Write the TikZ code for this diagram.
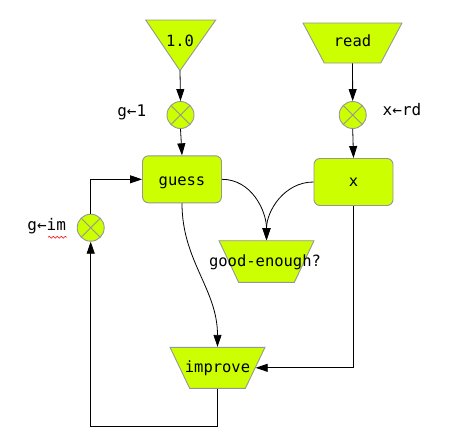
\documentclass[tikz,border=0pt]{standalone}
\usepackage{fontspec}
\newfontfamily\monofont{DejaVu Sans Mono}
\usetikzlibrary{shapes.geometric,arrows.meta,decorations.pathmorphing}
\definecolor{lime}{RGB}{204,255,0}
\definecolor{edgegray}{RGB}{150,150,150}
\begin{document}
\begin{tikzpicture}[x=1pt,y=-1pt,
  txt/.style={font=\monofont\fontsize{15.5}{18}\selectfont, inner sep=0pt, anchor=base},
  lbl/.style={font=\monofont\fontsize{16}{19}\selectfont, inner sep=0pt, anchor=base},
  box/.style={draw=edgegray, fill=lime, line width=0.9pt, rounded corners=6pt, minimum width=79pt, minimum height=47pt, inner sep=0pt},
  trap/.style={draw=edgegray, fill=lime, line width=0.9pt, trapezium, trapezium stretches=true, shape border rotate=180, inner sep=1pt},
  junction/.style={draw=edgegray, fill=lime, line width=0.9pt, circle, minimum size=27pt, inner sep=0pt,
    path picture={\draw[edgegray, line width=0.9pt] (path picture bounding box.north west) -- (path picture bounding box.south east)
      (path picture bounding box.north east) -- (path picture bounding box.south west);}},
  arr/.style={draw=black, line width=0.8pt, -{Triangle[length=12pt,width=8pt]}}
]
\useasboundingbox (0,0) rectangle (462,447);

% triangle 1.0
\draw[draw=edgegray, fill=lime, line width=0.9pt] (145.7,20) -- (215.7,20) -- (180,70.7) -- cycle;
\coordinate (onetip) at (180,70.7);
\node[txt] (one) at (180,46.7) {1.0};

% read
\node[trap, trapezium left angle=64.6, trapezium right angle=64.6, minimum width=99pt, minimum height=40pt] (read) at (352.5,43) {\phantom{M}};
\node[txt] (readtxt) at (352.5,46.7) {read};

% junctions
\node[junction] (cg) at (180.5,115) {};
\node[lbl] (cglbl) at (131.7,116.5) {g←1};
\node[junction] (cx) at (352.7,115) {};
\node[lbl] (cxlbl) at (402,115.5) {x←rd};
\node[junction] (cim) at (90.7,227.7) {};
\node[lbl] (cimlbl) at (46.7,230) {g←im};
\draw[red, line width=0.6pt, decorate, decoration={snake, amplitude=1pt, segment length=4pt}] (48,237.3) -- (66.7,237.3);

% boxes
\node[box] (guess) at (182,179.3) {};
\node[txt] (guesstxt) at (182,185.7) {guess};
\node[box] (xbox) at (353.5,182) {};
\node[txt] (xtxt) at (353.5,186) {x};

% good-enough?
\node[trap, trapezium left angle=66, trapezium right angle=66, minimum width=95pt, minimum height=41.6pt] (ge) at (266.5,261.5) {\phantom{M}};
\node[txt] (getxt) at (265,266.5) {good-enough?};

% improve
\node[trap, trapezium left angle=66, trapezium right angle=66, minimum width=95pt, minimum height=41pt] (improve) at (217.5,367.8) {\phantom{M}};
\node[txt] (imptxt) at (217.5,372) {improve};

\coordinate (bl) at (90.7,426.7);

% connectors
\draw[arr] (onetip) -- (cg.north);
\draw[arr] (cg.south) -- (guess.north);
\draw[arr] (read.south) -- (cx.north);
\draw[arr] (cx.south) -- (xbox.north);
\draw[arr] (guess.east) to[out=0,in=90] (ge.north);
\draw[arr] (xbox.west) to[out=180,in=90] (ge.north);
\draw[arr] (guess.south) to[out=-90,in=90] (improve.north);
\draw[arr] (xbox.south) |- (improve.east);
\draw[arr] (improve.south) |- (bl) -- (cim.south);
\draw[arr] (cim.north) |- (guess.west);
\end{tikzpicture}
\end{document}
